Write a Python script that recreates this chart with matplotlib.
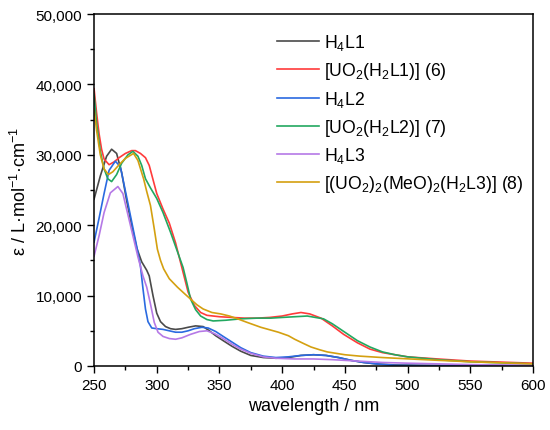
import matplotlib
matplotlib.use("Agg")
import matplotlib.pyplot as plt
from matplotlib.ticker import MultipleLocator, FuncFormatter

plt.rcParams['font.family'] = ['Liberation Sans', 'DejaVu Sans']
plt.rcParams['mathtext.fontset'] = 'custom'
plt.rcParams['mathtext.rm'] = 'Liberation Sans'
plt.rcParams['mathtext.it'] = 'Liberation Sans'

# values (wavelength in nm, epsilon in units of 1000)
wl_h4l1 = [250, 255, 260, 264, 268, 272, 276, 280, 284, 288, 292, 294, 297, 300, 303,
           307, 311, 315, 320, 325, 331, 337, 342, 347, 353, 360, 367, 375, 385, 395,
           405, 415, 425, 435, 445, 455, 465, 475, 490, 510, 550, 600]
eps_h4l1 = [23.7, 27.0, 29.8, 30.8, 30.2, 27.5, 23.5, 20.0, 16.8, 14.8, 13.6, 12.8, 10.0, 7.5, 6.3,
            5.6, 5.3, 5.2, 5.3, 5.5, 5.7, 5.6, 5.0, 4.3, 3.6, 2.8, 2.1, 1.5, 1.2, 1.1,
            1.2, 1.5, 1.6, 1.5, 1.2, 0.8, 0.5, 0.3, 0.15, 0.1, 0.05, 0.0]

wl_uo2_l1 = [250, 252, 254, 256, 258, 262, 266, 270, 275, 280, 283, 287, 291, 294, 297,
             300, 305, 310, 315, 320, 325, 330, 335, 340, 350, 360, 370, 380, 390, 400,
             408, 415, 422, 431, 440, 449, 460, 470, 480, 490, 500, 524, 550, 575, 600]
eps_uo2_l1 = [39.4, 36.0, 33.0, 30.8, 29.4, 28.6, 29.0, 29.6, 30.2, 30.6, 30.6, 30.2, 29.6, 28.5, 26.5,
              24.5, 22.3, 20.3, 17.5, 14.0, 10.5, 8.6, 7.6, 7.2, 7.0, 6.9, 6.8, 6.8, 6.9, 7.1,
              7.4, 7.6, 7.4, 6.8, 5.7, 4.5, 3.3, 2.4, 1.9, 1.6, 1.3, 1.0, 0.7, 0.55, 0.4]

wl_h4l2 = [250, 254, 258, 262, 267, 271, 276, 280, 284, 287, 289, 291, 293, 296, 300,
           305, 310, 315, 320, 325, 330, 336, 341, 347, 353, 360, 367, 375, 385, 395,
           405, 415, 425, 435, 445, 455, 465, 475, 490, 520, 600]
eps_h4l2 = [17.6, 21.0, 24.5, 27.8, 29.1, 28.3, 24.0, 20.5, 17.0, 14.2, 11.0, 8.1, 6.3, 5.4, 5.3,
            5.2, 5.0, 4.8, 4.8, 5.0, 5.3, 5.5, 5.4, 4.9, 4.2, 3.4, 2.6, 1.9, 1.4, 1.2,
            1.3, 1.5, 1.6, 1.5, 1.2, 0.8, 0.5, 0.3, 0.1, 0.05, 0.05]

wl_uo2_l2 = [250, 252, 255, 258, 261, 264, 268, 272, 277, 281, 285, 288, 291, 295, 300,
             305, 311, 316, 321, 324, 327, 331, 335, 340, 345, 355, 367, 380, 391, 400,
             410, 420, 433, 440, 450, 460, 470, 480, 490, 500, 524, 550, 575, 600]
eps_uo2_l2 = [38.6, 34.5, 30.5, 28.0, 26.6, 26.2, 27.2, 28.8, 30.0, 30.5, 29.8, 28.5, 26.6, 25.3, 23.8,
              21.8, 19.0, 16.5, 14.0, 11.8, 9.5, 8.0, 7.1, 6.6, 6.4, 6.5, 6.7, 6.8, 6.8, 6.9,
              7.0, 7.1, 6.7, 6.0, 4.8, 3.6, 2.7, 2.0, 1.6, 1.3, 0.9, 0.6, 0.45, 0.3]

wl_h4l3 = [250, 254, 258, 263, 269, 273, 277, 281, 285, 289, 292, 295, 298, 301, 305,
           310, 315, 320, 327, 334, 340, 346, 353, 360, 367, 375, 385, 395, 410, 425,
           440, 460, 480, 500, 550, 600]
eps_h4l3 = [15.6, 18.5, 21.8, 24.6, 25.5, 24.5, 21.5, 18.5, 15.5, 12.8, 11.2, 8.8, 6.2, 4.8, 4.2,
            3.9, 3.8, 4.0, 4.5, 4.9, 5.0, 4.6, 3.9, 3.1, 2.4, 1.8, 1.3, 1.1, 1.0, 1.0,
            0.9, 0.7, 0.5, 0.4, 0.2, 0.1]

wl_uo2_l3 = [250, 252, 255, 258, 261.5, 265, 270, 275, 281.5, 285, 289.5, 292, 295, 298, 300.5,
             303, 305.5, 310, 316.5, 322, 327, 332, 337, 344, 351, 358, 364.5, 372, 383, 397,
             405, 410, 417, 423, 430, 436, 450, 462, 480, 502, 525, 550, 575, 600]
eps_uo2_l3 = [36.5, 33.5, 30.0, 28.0, 27.2, 27.6, 28.6, 29.5, 30.2, 29.2, 26.6, 24.8, 22.8, 19.5, 16.6,
              15.0, 13.8, 12.4, 11.2, 10.3, 9.5, 8.7, 8.1, 7.6, 7.4, 7.1, 6.7, 6.2, 5.5, 4.8,
              4.3, 3.8, 3.2, 2.7, 2.3, 2.0, 1.6, 1.4, 1.2, 1.0, 0.8, 0.6, 0.45, 0.3]

series = [
    (wl_h4l1, eps_h4l1, r'H$_4$L1', '#4a4a4a'),
    (wl_uo2_l1, eps_uo2_l1, r'[UO$_2$(H$_2$L1)] (6)', '#ff3b3b'),
    (wl_h4l2, eps_h4l2, r'H$_4$L2', '#2a6ae0'),
    (wl_uo2_l2, eps_uo2_l2, r'[UO$_2$(H$_2$L2)] (7)', '#22a860'),
    (wl_h4l3, eps_h4l3, r'H$_4$L3', '#b579e6'),
    (wl_uo2_l3, eps_uo2_l3, r'[(UO$_2$)$_2$(MeO)$_2$(H$_2$L3)] (8)', '#d4a010'),
]

fig = plt.figure(figsize=(5.5, 4.31), dpi=100)
ax = fig.add_axes([0.171, 0.1485, 0.798, 0.8165])

for x, y, lab, col in series:
    ax.plot(x, [v * 1000 for v in y], color=col, lw=1.2, label=lab)

ax.set_xlim(250, 600)
ax.set_ylim(0, 50000)
ax.xaxis.set_major_locator(MultipleLocator(50))
ax.xaxis.set_minor_locator(MultipleLocator(25))
ax.yaxis.set_major_locator(MultipleLocator(10000))
ax.yaxis.set_minor_locator(MultipleLocator(5000))
ax.yaxis.set_major_formatter(FuncFormatter(lambda v, p: '{:,.0f}'.format(v)))

ax.tick_params(which='major', direction='out', length=5, width=1, labelsize=11)
ax.tick_params(which='minor', direction='out', length=3, width=1)
for s in ax.spines.values():
    s.set_linewidth(1.1)

ax.set_xlabel('wavelength / nm', fontsize=13)
ax.set_ylabel(r'ε / L·mol$^{-1}$·cm$^{-1}$', fontsize=13)

ax.legend(loc='upper left', bbox_to_anchor=(0.40, 0.968), frameon=False,
          fontsize=12.7, handlelength=2.4, handletextpad=0.3, labelspacing=0.44,
          borderaxespad=0)

fig.savefig('out.png', dpi=100)
